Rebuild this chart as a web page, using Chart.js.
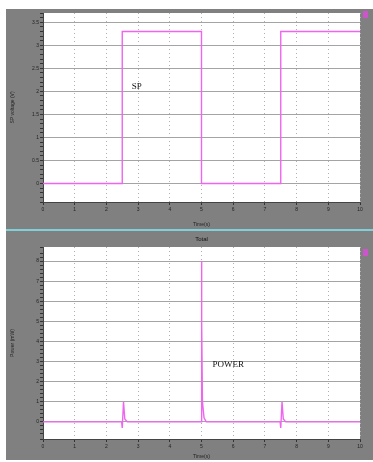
<!DOCTYPE html>
<html lang="en">
<head>
    <meta charset="utf-8" />
    <title>SP voltage / Power</title>
    <script src="https://cdn.jsdelivr.net/npm/chart.js"></script>
    <style>
        body { margin: 0; width: 373px; height: 462px; background: #fff; position: relative; overflow: hidden; }
        /* panel de fondo gris */
        #panel { position: absolute; left: 6px; top: 9px; width: 367px; height: 451px; background: #808080; }
        #sep { position: absolute; left: 6px; top: 229px; width: 367px; height: 2px; background: #7fd0d8; }
        #top { position: absolute; left: 6px; top: 9px; }
        #bottom { position: absolute; left: 6px; top: 231px; }
    </style>
</head>
<body>
    <div id="panel"></div>
    <div id="sep"></div>
    <canvas id="top" width="367" height="219"></canvas>
    <canvas id="bottom" width="367" height="229"></canvas>

    <script>
        // datos
        const xTicks = [0, 1, 2, 3, 4, 5, 6, 7, 8, 9, 10];
        const spTime = [0, 2.5, 2.5, 5, 5, 7.5, 7.5, 10];
        const spVoltage = [0, 0, 3.3, 3.3, 0, 0, 3.3, 3.3];
        const powerTime = [0, 2.48, 2.5, 2.54, 2.58, 2.66, 4.99, 5.0, 5.01, 5.03, 5.08, 5.15, 7.48, 7.5, 7.54, 7.58, 7.66, 10];
        const power = [0, 0, -0.3, 1.0, 0.15, 0, 0, 8.0, 5.0, 1.0, 0.2, 0, 0, -0.3, 1.0, 0.15, 0, 0];

        const lineColor = '#ee66ee';
        const tickFont = { family: 'Liberation Sans', size: 5 };

        function pts(xs, ys) { return xs.map((x, i) => ({ x: x, y: ys[i] })); }

        // fondo blanco del area de trazado
        const plotBg = {
            id: 'plotBg',
            beforeDraw(chart) {
                const a = chart.chartArea, ctx = chart.ctx;
                ctx.save();
                ctx.fillStyle = '#fff';
                ctx.fillRect(a.left, a.top, a.right - a.left, a.bottom - a.top);
                ctx.restore();
            }
        };

        // textos y cuadradito magenta
        const extras = {
            id: 'extras',
            afterDraw(chart, args, opts) {
                const ctx = chart.ctx, a = chart.chartArea;
                const xs = chart.scales.x, ys = chart.scales.y;
                ctx.save();
                ctx.fillStyle = '#cc55cc';
                ctx.fillRect(a.right + 3, opts.boxY, 5, 7);
                ctx.fillStyle = '#111';
                ctx.font = '9px "Liberation Serif"';
                ctx.textBaseline = 'middle';
                ctx.fillText(opts.label, xs.getPixelForValue(opts.lx), ys.getPixelForValue(opts.ly));
                if (opts.title) {
                    ctx.font = '6px "Liberation Sans"';
                    ctx.textAlign = 'center';
                    ctx.fillText(opts.title, (a.left + a.right) / 2, 8);
                }
                ctx.restore();
            }
        };

        function makeChart(id, xs, ys, yMin, yMax, yStep, isMajor, yTitle, padTop, xHeight, extraOpts) {
            return new Chart(document.getElementById(id), {
                type: 'scatter',
                data: {
                    datasets: [{
                        data: pts(xs, ys),
                        showLine: true,
                        borderColor: lineColor,
                        borderWidth: 1.4,
                        pointRadius: 0,
                        tension: 0
                    }]
                },
                options: {
                    responsive: false,
                    animation: false,
                    layout: { padding: { top: padTop, right: 13, left: 0, bottom: 0 } },
                    plugins: { legend: { display: false }, tooltip: { enabled: false }, extras: extraOpts },
                    scales: {
                        x: {
                            type: 'linear', min: 0, max: 10,
                            afterBuildTicks: s => { s.ticks = xTicks.map(v => ({ value: v })); },
                            afterFit: s => { s.height = xHeight; },
                            ticks: { font: tickFont, color: '#222', padding: 2, maxRotation: 0 },
                            grid: { color: '#b0b0b0', lineWidth: 1, tickLength: 3, tickColor: '#333' },
                            border: { color: '#444', dash: [1, 3] },
                            title: { display: true, text: 'Time(s)', font: { family: 'Liberation Sans', size: 5 }, color: '#222', padding: { top: 2, bottom: 0 } }
                        },
                        y: {
                            min: yMin, max: yMax,
                            afterFit: s => { s.width = 37; },
                            ticks: {
                                stepSize: yStep, maxTicksLimit: 200, autoSkip: false,
                                font: tickFont, color: '#222', padding: 1,
                                callback: v => isMajor(v) ? String(Math.round(v * 10) / 10) : ''
                            },
                            grid: {
                                color: c => isMajor(c.tick.value) ? '#a4a4a4' : 'rgba(0,0,0,0)',
                                tickColor: '#333', tickLength: 3, lineWidth: 1
                            },
                            border: { color: '#444' },
                            title: { display: true, text: yTitle, font: { family: 'Liberation Sans', size: 5 }, color: '#222', padding: 4 }
                        }
                    }
                },
                plugins: [plotBg, extras]
            });
        }

        makeChart('top', spTime, spVoltage, -0.4, 3.7, 0.1,
            v => Math.abs(v * 2 - Math.round(v * 2)) < 1e-6,
            'SP voltage (V)', 1, 26,
            { label: 'SP', lx: 2.8, ly: 2.1, boxY: 2 });

        makeChart('bottom', powerTime, power, -0.85, 8.7, 0.2,
            v => Math.abs(v - Math.round(v)) < 1e-6,
            'Power (mW)', 16, 21,
            { label: 'POWER', lx: 5.35, ly: 2.85, boxY: 18, title: 'Total' });
    </script>
</body>
</html>
